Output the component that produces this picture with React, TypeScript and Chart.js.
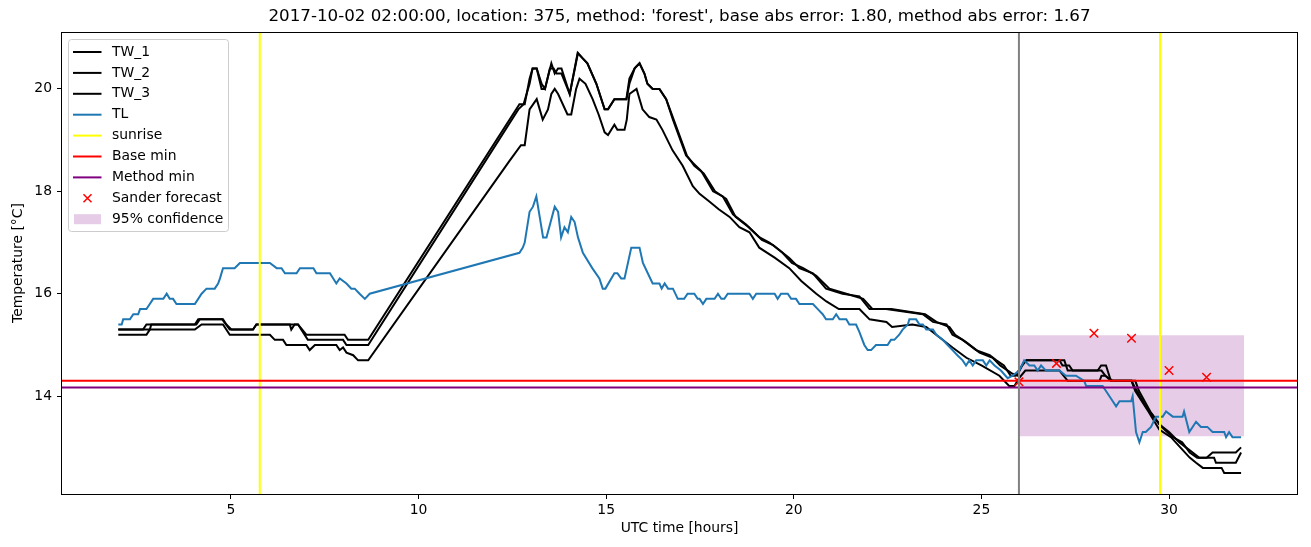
import React, { useEffect, useRef } from 'react';
import { Chart, registerables } from 'chart.js';

Chart.register(...registerables);

const FONT = "'DejaVu Sans', 'Liberation Sans', sans-serif";

const titleText =
  "2017-10-02 02:00:00, location: 375, method: 'forest', base abs error: 1.80, method abs error: 1.67";
const xTitle = 'UTC time [hours]';
const yTitle = 'Temperature [°C]';

const xMin = 0.5;
const xMax = 33.41;
const yMin = 12.09;
const yMax = 21.11;
const xTicks = [5, 10, 15, 20, 25, 30];
const yTicks = [14, 16, 18, 20];

const tw1Hours = [2.0, 2.66, 2.75, 4.04, 4.13, 4.79, 4.88, 5.02, 5.59, 5.68, 6.57, 6.61, 6.7, 6.79, 7.01, 8.03, 8.12, 8.66,
  12.69, 12.83, 12.96, 13.04, 13.15, 13.28, 13.37, 13.54, 13.63, 13.72, 13.81, 14.03, 14.25, 14.37, 14.5, 14.74, 14.96, 15.05,
  15.22, 15.54, 15.62, 15.76, 15.89, 16.02, 16.1, 16.24, 16.42, 16.6, 16.78, 17.13, 17.32, 17.53, 17.85, 18.11, 18.38, 18.73,
  19.09, 19.35, 19.62, 19.88, 20.15, 20.51, 20.86, 21.3, 21.75, 22.02, 22.46, 23.44, 23.71, 24.07, 24.23, 24.5, 24.86, 25.22,
  25.4, 25.6, 25.78, 25.9, 26.09, 26.2, 27.21, 27.3, 28.1, 28.19, 28.32, 28.45, 29.0, 29.07, 29.38, 29.74, 30.0, 30.27, 30.45,
  30.63, 30.8, 31.0, 31.16, 31.78, 31.92];
const tw1Temps = [15.3, 15.3, 15.4, 15.4, 15.5, 15.5, 15.4, 15.3, 15.3, 15.4, 15.4, 15.3, 15.4, 15.4, 15.2, 15.2, 15.1, 15.1,
  19.7, 19.7, 20.2, 20.4, 20.4, 20.1, 20.0, 20.5, 20.3, 20.4, 20.4, 19.9, 20.7, 20.6, 20.5, 20.1, 19.6, 19.6,
  19.8, 19.8, 20.2, 20.4, 20.5, 20.3, 20.1, 20.0, 20.0, 19.8, 19.4, 18.7, 18.55, 18.4, 18.0, 17.9, 17.55, 17.35,
  17.1, 17.0, 16.85, 16.7, 16.5, 16.4, 16.1, 16.0, 15.95, 15.7, 15.7, 15.6, 15.45, 15.4, 15.2, 15.1, 14.9, 14.8,
  14.7, 14.6, 14.4, 14.4, 14.6, 14.7, 14.7, 14.5, 14.5, 14.6, 14.6, 14.3, 14.3, 14.2, 13.8, 13.45, 13.3, 13.1, 13.0,
  12.9, 12.8, 12.8, 12.9, 12.9, 13.0];

const tw2Hours = [2.0, 2.84, 2.88, 4.08, 4.17, 4.77, 4.97, 5.59, 5.68, 6.79, 7.05, 7.99, 8.08, 8.66,
  12.66, 12.8, 12.96, 13.04, 13.15, 13.28, 13.37, 13.5, 13.6, 13.68, 13.81, 14.03, 14.24, 14.37, 14.5, 14.74, 14.96, 15.05,
  15.22, 15.54, 15.62, 15.76, 15.89, 16.02, 16.1, 16.24, 16.42, 16.6, 16.8, 17.15, 17.35, 17.6, 17.9, 18.2, 18.45, 18.8,
  19.15, 19.45, 19.7, 19.95, 20.25, 20.6, 20.95, 21.4, 21.85, 22.1, 22.6, 23.5, 23.8, 24.15, 24.3, 24.6, 24.95, 25.3,
  25.5, 25.8, 25.95, 26.12, 26.2, 27.08, 27.16, 27.34, 27.43, 28.2, 28.3, 28.45, 29.1, 29.2, 29.5, 29.8, 30.1, 30.35,
  30.55, 30.75, 31.2, 31.25, 31.78, 31.92];
const tw2Temps = [15.3, 15.3, 15.4, 15.4, 15.5, 15.5, 15.3, 15.3, 15.4, 15.4, 15.1, 15.1, 15.0, 15.0,
  19.6, 19.7, 20.1, 20.4, 20.4, 20.0, 20.0, 20.4, 20.4, 20.3, 20.3, 19.9, 20.7, 20.6, 20.5, 20.1, 19.6, 19.6,
  19.8, 19.8, 20.1, 20.4, 20.5, 20.3, 20.1, 20.0, 20.0, 19.8, 19.4, 18.7, 18.5, 18.35, 18.0, 17.85, 17.5, 17.3,
  17.05, 16.95, 16.8, 16.6, 16.5, 16.35, 16.1, 16.0, 15.9, 15.7, 15.7, 15.6, 15.45, 15.35, 15.2, 15.05, 14.85, 14.75,
  14.6, 14.45, 14.4, 14.65, 14.7, 14.7, 14.6, 14.6, 14.5, 14.5, 14.4, 14.3, 14.3, 14.1, 13.7, 13.4, 13.2, 13.1,
  12.9, 12.8, 12.8, 12.7, 12.7, 12.9];

const tw3Hours = [2.0, 2.75, 2.84, 4.04, 4.22, 4.79, 4.97, 6.04, 6.17, 6.39, 6.48, 7.01, 7.1, 7.24, 7.81, 7.9, 7.99, 8.08,
  8.26, 8.39, 8.66, 12.43, 12.73, 12.83, 12.96, 13.15, 13.31, 13.45, 13.54, 13.63, 13.72, 13.97, 14.07, 14.2, 14.29, 14.45,
  14.64, 14.8, 14.96, 15.05, 15.22, 15.3, 15.49, 15.55, 15.62, 15.81, 15.97, 16.15, 16.34, 16.5, 16.77, 17.04, 17.31, 17.49,
  17.75, 18.0, 18.29, 18.55, 18.82, 19.08, 19.5, 19.88, 20.2, 20.6, 20.87, 21.2, 21.75, 22.02, 22.47, 22.62, 23.16, 23.53,
  23.88, 24.23, 24.6, 25.0, 25.48, 25.74, 25.88, 26.0, 26.17, 27.08, 27.3, 28.15, 28.2, 28.3, 28.5, 29.0, 29.1, 29.45,
  29.74, 30.05, 30.3, 30.55, 30.72, 30.9, 31.4, 31.47, 31.92];
const tw3Temps = [15.2, 15.2, 15.3, 15.3, 15.4, 15.4, 15.2, 15.2, 15.1, 15.1, 15.0, 15.0, 14.9, 15.0, 15.0, 14.9, 14.95, 14.85,
  14.8, 14.7, 14.7, 18.6, 18.9, 18.9, 19.6, 19.8, 19.4, 19.6, 19.9, 20.0, 19.9, 19.5, 19.5, 20.0, 20.2, 20.1,
  19.8, 19.5, 19.15, 19.1, 19.3, 19.2, 19.2, 19.4, 19.9, 20.0, 19.6, 19.45, 19.4, 19.2, 18.8, 18.5, 18.1, 17.95,
  17.8, 17.65, 17.5, 17.3, 17.2, 16.9, 16.7, 16.5, 16.25, 16.0, 15.85, 15.7, 15.7, 15.5, 15.45, 15.35, 15.4, 15.35,
  15.15, 14.95, 14.75, 14.6, 14.4, 14.2, 14.2, 14.35, 14.5, 14.5, 14.3, 14.3, 14.4, 14.4, 14.3, 14.3, 14.1, 13.7,
  13.35, 13.2, 13.0, 12.8, 12.7, 12.6, 12.6, 12.5, 12.5];

const tlHours = [2.0, 2.09, 2.13, 2.31, 2.4, 2.53, 2.58, 2.75, 2.84, 2.93, 3.2, 3.29, 3.37, 3.46, 3.55, 4.04, 4.13, 4.22,
  4.35, 4.57, 4.66, 4.71, 4.79, 5.1, 5.24, 6.04, 6.22, 6.35, 6.44, 6.75, 6.84, 7.2, 7.28, 7.64, 7.81, 7.9, 8.08, 8.21,
  8.3, 8.43, 8.57, 8.7, 12.69, 12.78, 12.83, 12.96, 13.05, 13.14, 13.32, 13.41, 13.63, 13.72, 13.8, 13.89, 13.98, 14.07,
  14.16, 14.25, 14.38, 14.63, 14.82, 14.91, 14.98, 15.22, 15.3, 15.4, 15.49, 15.67, 15.89, 15.98, 16.11, 16.24, 16.42,
  16.48, 16.56, 16.65, 16.78, 16.91, 17.08, 17.17, 17.35, 17.44, 17.49, 17.58, 17.67, 17.89, 17.98, 18.07, 18.15, 18.24,
  18.82, 18.91, 19.0, 19.49, 19.57, 19.66, 19.84, 19.93, 20.06, 20.15, 20.51, 20.64, 20.77, 20.86, 21.04, 21.13, 21.22,
  21.4, 21.48, 21.66, 21.75, 21.88, 21.97, 22.06, 22.19, 22.5, 22.59, 22.68, 22.81, 22.9, 23.04, 23.08, 23.26, 23.35,
  23.44, 23.53, 23.71, 23.8, 23.97, 24.1, 24.23, 24.36, 24.5, 24.59, 24.68, 24.77, 24.86, 25.04, 25.13, 25.22, 25.35,
  25.52, 25.7, 25.83, 25.92, 26.01, 26.14, 26.28, 26.41, 26.5, 26.59, 26.72, 27.08, 27.25, 27.52, 27.74, 27.79, 28.23,
  28.32, 28.5, 28.59, 28.68, 28.99, 29.03, 29.12, 29.21, 29.3, 29.38, 29.52, 29.65, 29.83, 29.92, 30.1, 30.36, 30.4,
  30.54, 30.72, 30.85, 31.02, 31.16, 31.47, 31.52, 31.6, 31.69, 31.92];
const tlTemps = [15.4, 15.4, 15.5, 15.5, 15.6, 15.6, 15.7, 15.7, 15.8, 15.9, 15.9, 16.0, 15.9, 15.9, 15.8, 15.8, 15.9, 16.0,
  16.1, 16.1, 16.2, 16.3, 16.5, 16.5, 16.6, 16.6, 16.5, 16.5, 16.4, 16.4, 16.5, 16.5, 16.4, 16.4, 16.2, 16.3, 16.2, 16.1,
  16.1, 16.0, 15.9, 16.0, 16.8, 16.9, 17.0, 17.6, 17.7, 17.9, 17.1, 17.1, 17.7, 17.6, 17.1, 17.3, 17.2, 17.5,
  17.4, 17.1, 16.8, 16.5, 16.3, 16.1, 16.1, 16.4, 16.4, 16.3, 16.3, 16.9, 16.9, 16.6, 16.4, 16.2, 16.2,
  16.1, 16.2, 16.1, 16.1, 15.9, 15.9, 16.0, 16.0, 15.9, 15.9, 15.8, 15.9, 15.9, 16.0, 15.9, 15.9, 16.0,
  16.0, 15.9, 16.0, 16.0, 15.9, 16.0, 16.0, 15.9, 15.9, 15.8, 15.8, 15.7, 15.6, 15.5, 15.5, 15.6, 15.5,
  15.5, 15.4, 15.4, 15.25, 15.0, 14.9, 14.9, 15.0, 15.0, 15.1, 15.1, 15.2, 15.3, 15.4, 15.5, 15.5, 15.4,
  15.4, 15.3, 15.3, 15.2, 15.1, 15.0, 14.9, 14.8, 14.7, 14.6, 14.7, 14.6, 14.7, 14.7, 14.6, 14.7, 14.6,
  14.5, 14.35, 14.4, 14.45, 14.5, 14.7, 14.6, 14.6, 14.5, 14.6, 14.5, 14.5, 14.4, 14.4, 14.3, 14.2, 14.2,
  14.1, 13.9, 13.8, 13.9, 13.9, 14.0, 13.3, 13.1, 13.3, 13.3, 13.4, 13.6, 13.6, 13.7, 13.6, 13.6, 13.7,
  13.3, 13.5, 13.4, 13.4, 13.3, 13.3, 13.2, 13.3, 13.2, 13.2];

const sunriseHours = [5.77, 29.76];
const forecastHour = 26.0;
const baseMin = 14.3;
const methodMin = 14.17;
const sanderHours = [26, 27, 28, 29, 30, 31];
const sanderTemps = [14.28, 14.64, 15.23, 15.13, 14.5, 14.37];
const confStart = 26;
const confEnd = 32;
const confLow = 13.22;
const confHigh = 15.19;

const zip = (xs: number[], ys: number[]) => xs.map((x, i) => ({ x, y: ys[i] }));
const vline = (x: number) => [{ x, y: yMin }, { x, y: yMax }];
const hline = (y: number) => [{ x: xMin, y }, { x: xMax, y }];

const lineBase = { pointRadius: 0, borderWidth: 2, tension: 0, fill: false };

const framePlugin = {
  id: 'frame',
  afterDatasetsDraw(chart: any) {
    const { ctx, chartArea: a } = chart;
    ctx.save();
    ctx.strokeStyle = '#000';
    ctx.lineWidth = 1;
    ctx.strokeRect(Math.round(a.left) - 0.5, Math.round(a.top) + 0.5, Math.round(a.right - a.left) + 1, Math.round(a.bottom - a.top));
    ctx.restore();
  },
};

const legendPlugin = {
  id: 'mplLegend',
  afterDraw(chart: any) {
    const { ctx } = chart;
    const items = chart.data.datasets.filter((d: any) => d.label);
    const bx = 68.5, by = 39.5, bw = 160, bh = 192, r = 3;
    ctx.save();
    ctx.beginPath();
    ctx.moveTo(bx + r, by);
    ctx.lineTo(bx + bw - r, by);
    ctx.arcTo(bx + bw, by, bx + bw, by + r, r);
    ctx.lineTo(bx + bw, by + bh - r);
    ctx.arcTo(bx + bw, by + bh, bx + bw - r, by + bh, r);
    ctx.lineTo(bx + r, by + bh);
    ctx.arcTo(bx, by + bh, bx, by + bh - r, r);
    ctx.lineTo(bx, by + r);
    ctx.arcTo(bx, by, bx + r, by, r);
    ctx.closePath();
    ctx.fillStyle = 'rgba(255,255,255,0.8)';
    ctx.fill();
    ctx.strokeStyle = '#cccccc';
    ctx.lineWidth = 1;
    ctx.stroke();
    items.forEach((d: any, i: number) => {
      const cy = 52 + i * 20.9;
      if (d.fill) {
        ctx.fillStyle = d.backgroundColor;
        ctx.fillRect(74, cy - 5, 27, 10);
      } else if (d.showLine === false) {
        ctx.strokeStyle = d.borderColor;
        ctx.lineWidth = 1.5;
        ctx.beginPath();
        ctx.moveTo(83.5, cy - 4);
        ctx.lineTo(91.5, cy + 4);
        ctx.moveTo(83.5, cy + 4);
        ctx.lineTo(91.5, cy - 4);
        ctx.stroke();
      } else {
        ctx.strokeStyle = d.borderColor;
        ctx.lineWidth = d.borderWidth;
        ctx.beginPath();
        ctx.moveTo(73, cy);
        ctx.lineTo(101.5, cy);
        ctx.stroke();
      }
      ctx.fillStyle = '#000';
      ctx.font = `13.9px ${FONT}`;
      ctx.textBaseline = 'middle';
      ctx.textAlign = 'left';
      ctx.fillText(d.label, 112, cy);
    });
    ctx.restore();
  },
};

export default function App() {
  const ref = useRef<HTMLCanvasElement>(null);
  useEffect(() => {
    document.body.style.margin = '0';
    const tickFont = { family: FONT, size: 13.9 };
    const chart = new Chart(ref.current as HTMLCanvasElement, {
      type: 'line',
      data: {
        datasets: [
          { ...lineBase, label: 'TW_1', data: zip(tw1Hours, tw1Temps), borderColor: '#000000', order: 10 },
          { ...lineBase, label: 'TW_2', data: zip(tw2Hours, tw2Temps), borderColor: '#000000', order: 9 },
          { ...lineBase, label: 'TW_3', data: zip(tw3Hours, tw3Temps), borderColor: '#000000', order: 8 },
          { ...lineBase, label: 'TL', data: zip(tlHours, tlTemps), borderColor: '#1f77b4', order: 7 },
          { ...lineBase, label: 'sunrise', data: vline(sunriseHours[0]), borderColor: '#ffff00', order: 6 },
          { ...lineBase, label: 'Base min', data: hline(baseMin), borderColor: '#ff0000', order: 5 },
          { ...lineBase, label: 'Method min', data: hline(methodMin), borderColor: '#800080', order: 4 },
          {
            label: 'Sander forecast', data: zip(sanderHours, sanderTemps), showLine: false, pointStyle: 'crossRot',
            pointRadius: 6, pointBorderWidth: 1.5, borderColor: '#ff0000', backgroundColor: '#ff0000', order: 3,
          },
          {
            label: '95% confidence', data: [{ x: confStart, y: confHigh }, { x: confEnd, y: confHigh }],
            fill: { value: confLow }, backgroundColor: 'rgba(128,0,128,0.2)', borderColor: 'rgba(0,0,0,0)',
            borderWidth: 0, pointRadius: 0, order: 20,
          },
          { ...lineBase, data: vline(sunriseHours[1]), borderColor: '#ffff00', order: 6 },
          { ...lineBase, data: vline(forecastHour), borderColor: '#808080', order: 2 },
        ] as any,
      },
      options: {
        animation: false,
        responsive: false,
        events: [],
        layout: { padding: { left: 0, right: 14, top: 0, bottom: 0 } },
        plugins: {
          legend: { display: false },
          tooltip: { enabled: false },
          title: {
            display: true, text: titleText, color: '#000', fullSize: false,
            font: { family: FONT, size: 16.7, weight: 'normal', lineHeight: 1.2 },
            padding: { top: 7, bottom: 5 },
          },
        },
        scales: {
          x: {
            type: 'linear', min: xMin, max: xMax,
            afterBuildTicks: (s: any) => { s.ticks = xTicks.map((v) => ({ value: v })); },
            afterFit: (s: any) => { s.height = 53; },
            ticks: { color: '#000', font: tickFont, padding: 3.5, maxRotation: 0, autoSkip: false, callback: (v: any) => String(v) },
            grid: { display: true, drawOnChartArea: false, drawTicks: true, tickLength: 5, tickColor: '#000', tickWidth: 1 },
            border: { display: false },
            title: { display: true, text: xTitle, color: '#000', font: tickFont, padding: { top: 4, bottom: 10 } },
          },
          y: {
            type: 'linear', min: yMin, max: yMax,
            afterBuildTicks: (s: any) => { s.ticks = yTicks.map((v) => ({ value: v })); },
            afterFit: (s: any) => { s.width = 62; },
            ticks: { color: '#000', font: tickFont, padding: 5, autoSkip: false, callback: (v: any) => String(v) },
            grid: { display: true, drawOnChartArea: false, drawTicks: true, tickLength: 5, tickColor: '#000', tickWidth: 1 },
            border: { display: false },
            title: { display: true, text: yTitle, color: '#000', font: tickFont, padding: { top: 10, bottom: 4 } },
          },
        },
      } as any,
      plugins: [framePlugin, legendPlugin],
    });
    return () => chart.destroy();
  }, []);
  return (
    <div style={{ width: 1311, height: 547, background: '#fff' }}>
      <canvas ref={ref} width={1311} height={547} style={{ display: 'block', width: 1311, height: 547 }} />
    </div>
  );
}
